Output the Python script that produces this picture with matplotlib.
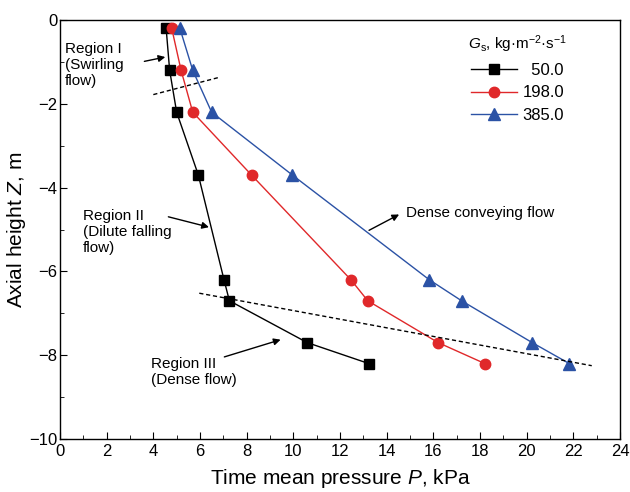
import numpy as np
import matplotlib
matplotlib.use('Agg')
import matplotlib.pyplot as plt
from matplotlib.ticker import MultipleLocator

plt.rcParams['font.family'] = ['Liberation Sans', 'DejaVu Sans']
plt.rcParams['mathtext.fontset'] = 'custom'
plt.rcParams['mathtext.rm'] = 'Liberation Sans'
plt.rcParams['mathtext.it'] = 'Liberation Sans:italic'

# axial height of the measuring points, m
z = [-0.2, -1.2, -2.2, -3.7, -6.2, -6.7, -7.7, -8.2]
# time mean pressure, kPa
p_50 = [4.55, 4.7, 5.0, 5.93, 7.03, 7.26, 10.6, 13.24]
p_198 = [4.79, 5.19, 5.69, 8.21, 12.47, 13.19, 16.21, 18.21]
p_385 = [5.14, 5.69, 6.5, 9.96, 15.83, 17.21, 20.24, 21.83]
labels = ['  50.0', '198.0', '385.0']

# region boundaries (dashed)
bound1_x = [4.0, 6.81]
bound1_z = [-1.78, -1.37]
bound2_x = [5.97, 22.79]
bound2_z = [-6.52, -8.25]

fig = plt.figure(figsize=(6.3, 4.92), dpi=100)
ax = fig.add_axes([0.0952, 0.1077, 0.8889, 0.8516])

ax.plot(p_50, z, color='black', lw=1, marker='s', ms=7, label=labels[0])
ax.plot(p_198, z, color='#e0282a', lw=1, marker='o', ms=7.5, label=labels[1])
ax.plot(p_385, z, color='#2b52a5', lw=1, marker='^', ms=8.5, label=labels[2])

ax.plot(bound1_x, bound1_z, 'k--', lw=1, dashes=(3, 2))
ax.plot(bound2_x, bound2_z, 'k--', lw=1, dashes=(3, 2))

arr = dict(arrowstyle='-|>', color='black', lw=1, mutation_scale=10)
fs = 11
ax.text(0.22, -1.08, 'Region I\n(Swirling\nflow)', fontsize=fs, va='center', ha='left', linespacing=1.2)
ax.annotate('', xy=(4.63, -0.87), xytext=(3.5, -1.0), arrowprops=arr)
ax.text(0.98, -5.06, 'Region II\n(Dilute falling\nflow)', fontsize=fs, va='center', ha='left', linespacing=1.2)
ax.annotate('', xy=(6.5, -4.96), xytext=(4.53, -4.68), arrowprops=arr)
ax.text(3.88, -8.4, 'Region III\n(Dense flow)', fontsize=fs, va='center', ha='left', linespacing=1.2)
ax.annotate('', xy=(9.57, -7.61), xytext=(6.93, -8.06), arrowprops=arr)
ax.text(14.85, -4.6, 'Dense conveying flow', fontsize=fs, va='center', ha='left')
ax.annotate('', xy=(14.64, -4.61), xytext=(13.14, -5.05), arrowprops=arr)

ax.set_xlim(0, 24)
ax.set_ylim(-10, 0)
ax.xaxis.set_major_locator(MultipleLocator(2))
ax.xaxis.set_minor_locator(MultipleLocator(1))
ax.yaxis.set_major_locator(MultipleLocator(2))
ax.yaxis.set_minor_locator(MultipleLocator(1))
ax.tick_params(which='both', direction='in', top=False, right=False, labelsize=12)
ax.tick_params(axis='y', pad=2)
ax.tick_params(which='major', length=5)
ax.tick_params(which='minor', length=3)
for s in ax.spines.values():
    s.set_linewidth(1)

ax.set_xlabel('Time mean pressure $P$, kPa', fontsize=15, labelpad=6)
ax.set_ylabel('Axial height $Z$, m', fontsize=15, labelpad=1)

leg = ax.legend(title='$G$$_\\mathrm{s}$, kg·m$^{-2}$·s$^{-1}$', loc='upper right',
                bbox_to_anchor=(0.926, 0.995), frameon=False, fontsize=12,
                title_fontsize=11, handlelength=2.8, handletextpad=0.3,
                labelspacing=0.45, borderpad=0.2)

fig.savefig('out.png', dpi=100)
